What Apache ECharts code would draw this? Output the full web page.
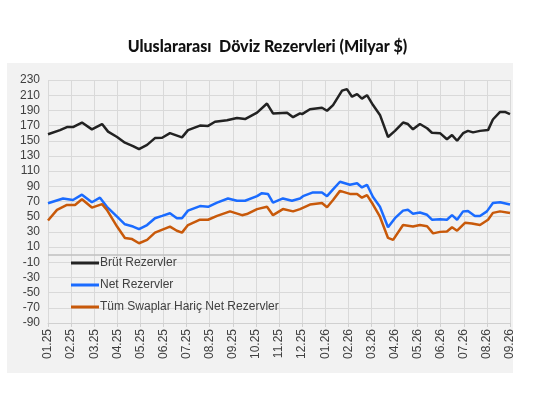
<!DOCTYPE html>
<html><head><meta charset="utf-8">
<script src="https://cdn.jsdelivr.net/npm/echarts@6/dist/echarts.min.js"></script>
<style>html,body{margin:0;padding:0;background:#fff}#c{width:535px;height:420px}</style>
</head><body><div id="c"></div>
<script>
const monthLabels=['01.25','02.25','03.25','04.25','05.25','06.25','07.25','08.25','09.25','10.25','11.25','12.25','01.26','02.26','03.26','04.26','05.26','06.26','07.26','08.26','09.26'];
const brutX=[0,0.52,0.82,1.08,1.47,1.9,2.34,2.6,2.99,3.33,3.68,3.94,4.29,4.63,4.94,5.28,5.8,6.06,6.58,6.93,7.23,7.75,8.18,8.53,9.05,9.48,9.74,10.35,10.61,10.91,11,11.34,11.86,12.08,12.34,12.73,12.94,13.16,13.38,13.59,13.81,14.07,14.37,14.72,15.02,15.37,15.58,15.8,16.1,16.41,16.62,16.97,17.27,17.49,17.71,17.97,18.18,18.4,18.7,19.05,19.26,19.57,19.78,20];
const brutY=[158.5,164,168,168,174,165,172,162,155,147.5,143,139,144.5,153.5,154,160,154.5,164,170,169.5,175,177,180,178.5,187,199,186,187,181,186,185,191.5,193.5,189.5,197,216,218,208,211.5,205.5,210,197,184,155,163,174,172,165,172,166.5,160.5,160,152,157.5,150,160,163,161,163,164,178,188,188,185];
const netX=[0,0.65,1.08,1.47,1.9,2.25,2.55,2.99,3.33,3.68,3.94,4.29,4.63,4.94,5.28,5.58,5.8,6.06,6.58,6.93,7.32,7.79,8.18,8.53,9.05,9.26,9.52,9.74,10.17,10.56,10.91,11.04,11.47,11.86,12.08,12.34,12.64,13.07,13.38,13.59,13.81,14.07,14.37,14.72,15.02,15.37,15.58,15.8,16.1,16.41,16.62,16.97,17.27,17.49,17.71,17.97,18.18,18.48,18.7,19,19.26,19.57,20];
const netY=[67.7,74,72,79,69,75,63,50,40,37,33.5,39,48,51,54.5,48,48,58,64,63,68.5,74,71,71,77,81,80,68.5,74,71,74,77,82,82,77,86,96,92,94,88.5,92,76,63,36,48,58,59,54,55.5,52.5,46,46.5,46,52,46,57,57.5,51,51,57,68,69,66];
const swapX=[0,0.39,0.82,1.17,1.47,1.9,2.34,2.55,2.99,3.33,3.64,3.94,4.29,4.63,5.28,5.58,5.8,6.06,6.58,6.93,7.32,7.88,8.4,8.61,9.05,9.48,9.74,10.17,10.61,10.91,11.34,11.86,12.08,12.34,12.64,13.07,13.38,13.59,13.81,14.07,14.37,14.72,14.94,15.37,15.8,16.1,16.41,16.67,16.97,17.27,17.49,17.71,18.05,18.35,18.7,19.05,19.26,19.57,20];
const swapY=[45,59,65.5,65.5,73,62,66.5,59,37,22,20.5,15,19.5,29,37,31.5,29,39,46,46,51,57,52,53.5,60,63,52,60,57,60,66,68,62.5,72,84,80,80,75,78.5,66,50,22,19.5,39,37,39,37.5,28,30,30.5,36,31.5,42,41,39,46,55,57,55];
const pairs=(xs,ys)=>xs.map((x,i)=>[x,ys[i]]);
const chart=echarts.init(document.getElementById('c'));
const ln=(name,color,xs,ys)=>({name,type:'line',data:pairs(xs,ys),showSymbol:false,symbol:'none',lineStyle:{color,width:2.5},itemStyle:{color},z:3});
chart.setOption({
  animation:false,
  backgroundColor:'#fff',
  graphic:[{type:'rect',shape:{x:7,y:63,width:506,height:310},style:{fill:'#f2f2f2'},z:-10}],
  title:{text:'Uluslararası  Döviz Rezervleri (Milyar $)',left:'center',top:34,textStyle:{fontFamily:'Lato',fontWeight:900,fontSize:16,color:'#111'}},
  legend:{orient:'vertical',left:66,top:252,itemWidth:28,itemHeight:3,itemGap:10,icon:'rect',textStyle:{fontFamily:'Liberation Sans',fontSize:12,color:'#404040',padding:[0,0,0,-4]},
    data:['Brüt Rezervler','Net Rezervler','Tüm Swaplar Hariç Net Rezervler']},
  grid:{left:48,right:25,top:80,bottom:97,containLabel:false},
  xAxis:{type:'value',min:0,max:20,interval:1,
    axisLine:{onZero:false,lineStyle:{color:'#d0d0d0'}},axisTick:{show:true,length:4,lineStyle:{color:'#d0d0d0'}},
    splitLine:{show:true,lineStyle:{color:'#d9d9d9'}},
    axisLabel:{rotate:90,fontFamily:'Liberation Sans',fontSize:12,color:'#404040',margin:6,formatter:v=>monthLabels[Math.round(v)]||''}},
  yAxis:{type:'value',min:-90,max:230,interval:20,
    axisLine:{show:false},axisTick:{show:false},
    splitLine:{lineStyle:{color:'#d9d9d9'}},
    axisLabel:{fontFamily:'Liberation Sans',fontSize:12,color:'#404040',margin:8}},
  series:[
    Object.assign(ln('Brüt Rezervler','#222222',brutX,brutY),{markLine:{silent:true,symbol:'none',label:{show:false},lineStyle:{color:'#bfbfbf',type:'solid',width:1.5},data:[{yAxis:0}]}}),
    ln('Net Rezervler','#1a6bff',netX,netY),
    ln('Tüm Swaplar Hariç Net Rezervler','#c8590a',swapX,swapY)
  ]
});
</script></body></html>
